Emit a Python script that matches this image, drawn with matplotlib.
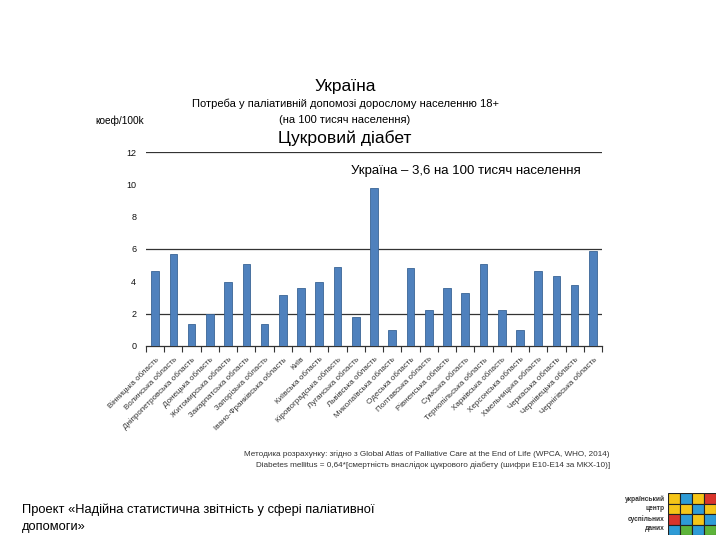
import numpy as np
import matplotlib.pyplot as plt
from matplotlib.patches import Rectangle

plt.rcParams['font.family'] = ['Liberation Sans', 'DejaVu Sans']

regions = ['Вінницька область', 'Волинська область', 'Дніпропетровська область',
           'Донецька область', 'Житомирська область', 'Закарпатська область',
           'Запорізька область', 'Івано-Франківська область', 'Київ',
           'Київська область', 'Кіровоградська область', 'Луганська область',
           'Львівська область', 'Миколаївська область', 'Одеська область',
           'Полтавська область', 'Рівненська область', 'Сумська область',
           'Тернопільська область', 'Харківська область', 'Херсонська область',
           'Хмельницька область', 'Черкаська область', 'Чернівецька область',
           'Чернігівська область']
values = [4.65, 5.7, 1.35, 1.95, 3.95, 5.05, 1.35, 3.15, 3.6, 3.95, 4.9, 1.8,
          9.8, 1.0, 4.85, 2.2, 3.6, 3.25, 5.05, 2.2, 1.0, 4.65, 4.3, 3.8, 5.9]
y_ticks = [0, 2, 4, 6, 8, 10, 12]
grid_lines = [2, 6, 12]

fig = plt.figure(figsize=(7.2, 5.4), dpi=100)
ax = fig.add_axes([0.2028, 0.3593, 0.6333, 0.3592])

x = np.arange(len(regions))
ax.bar(x, values, width=0.42, color='#4F81BD', edgecolor='#3A6596', linewidth=0.6, zorder=3)
for g in grid_lines:
    ax.axhline(g, color='#333333', linewidth=0.9, zorder=1)

ax.set_xlim(-0.5, len(regions) - 0.5)
ax.set_ylim(0, 12)
ax.set_yticks(y_ticks)
ax.set_yticklabels([str(t) for t in y_ticks], fontsize=6.5, color='#111111')
ax.tick_params(axis='y', length=0, pad=7)

ax.set_xticks(x)
ax.set_xticklabels(regions, rotation=45, ha='right', rotation_mode='anchor',
                   fontsize=5.8, color='#333333')
ax.tick_params(axis='x', which='major', length=0, pad=7)
ax.set_xticks(np.arange(-0.5, len(regions), 1), minor=True)
ax.tick_params(axis='x', which='minor', length=4, width=0.8, color='#333333')

for s in ['left', 'right', 'top']:
    ax.spines[s].set_visible(False)
ax.spines['bottom'].set_color('#333333')
ax.spines['bottom'].set_linewidth(0.9)

fig.text(345/720, 1 - 87/540, 'Україна', fontsize=12.5, ha='center', va='center')
fig.text(345/720, 1 - 104/540, 'Потреба у паліативній допомозі дорослому населенню 18+',
         fontsize=8, ha='center', va='center')
fig.text(345/720, 1 - 120/540, '(на 100 тисяч населення)', fontsize=8, ha='center', va='center')
fig.text(345/720, 1 - 138/540, 'Цукровий діабет', fontsize=12.6, ha='center', va='center')
fig.text(95/720, 1 - 121/540, 'коеф/100k', fontsize=7.3, ha='left', va='center')
fig.text(466/720, 1 - 171/540, 'Україна – 3,6 на 100 тисяч населення', fontsize=9.5,
         ha='center', va='center')

fig.text(610/720, 1 - 454/540,
         'Методика розрахунку: згідно з Global Atlas of Palliative Care at the End of Life (WPCA, WHO, 2014)',
         fontsize=5.9, ha='right', va='center', color='#333333')
fig.text(610/720, 1 - 465/540,
         'Diabetes mellitus = 0,64*[смертність внаслідок цукрового діабету (шифри E10-E14 за МКХ-10)]',
         fontsize=5.9, ha='right', va='center', color='#333333')

fig.text(22/720, 1 - 510/540, 'Проект «Надійна статистична звітність у сфері паліативної',
         fontsize=9.3, ha='left', va='center')
fig.text(22/720, 1 - 527/540, 'допомоги»', fontsize=9.3, ha='left', va='center')

# logo
for i, w in enumerate(['український', 'центр', 'суспільних', 'даних']):
    fig.text(665/720, 1 - (499 + i * 10)/540, w, fontsize=4.8, fontweight='bold',
             ha='right', va='center', color='#333333')
tile_colors = [['#F5C518', '#2E9BD6', '#F5C518', '#D9342B'],
               ['#F5C518', '#F5C518', '#2E9BD6', '#F5C518'],
               ['#D9342B', '#2E9BD6', '#F5C518', '#2E9BD6'],
               ['#2E9BD6', '#5DB43A', '#2E9BD6', '#5DB43A']]
lax = fig.add_axes([668/720, 1 - 535/540, 48/720, 42/540])
lax.set_xlim(0, 4)
lax.set_ylim(0, 4)
lax.axis('off')
for r in range(4):
    for c in range(4):
        lax.add_patch(Rectangle((c, 3 - r), 1, 1, facecolor=tile_colors[r][c],
                                edgecolor='#222222', linewidth=0.8))

fig.savefig('out.png', dpi=100)
